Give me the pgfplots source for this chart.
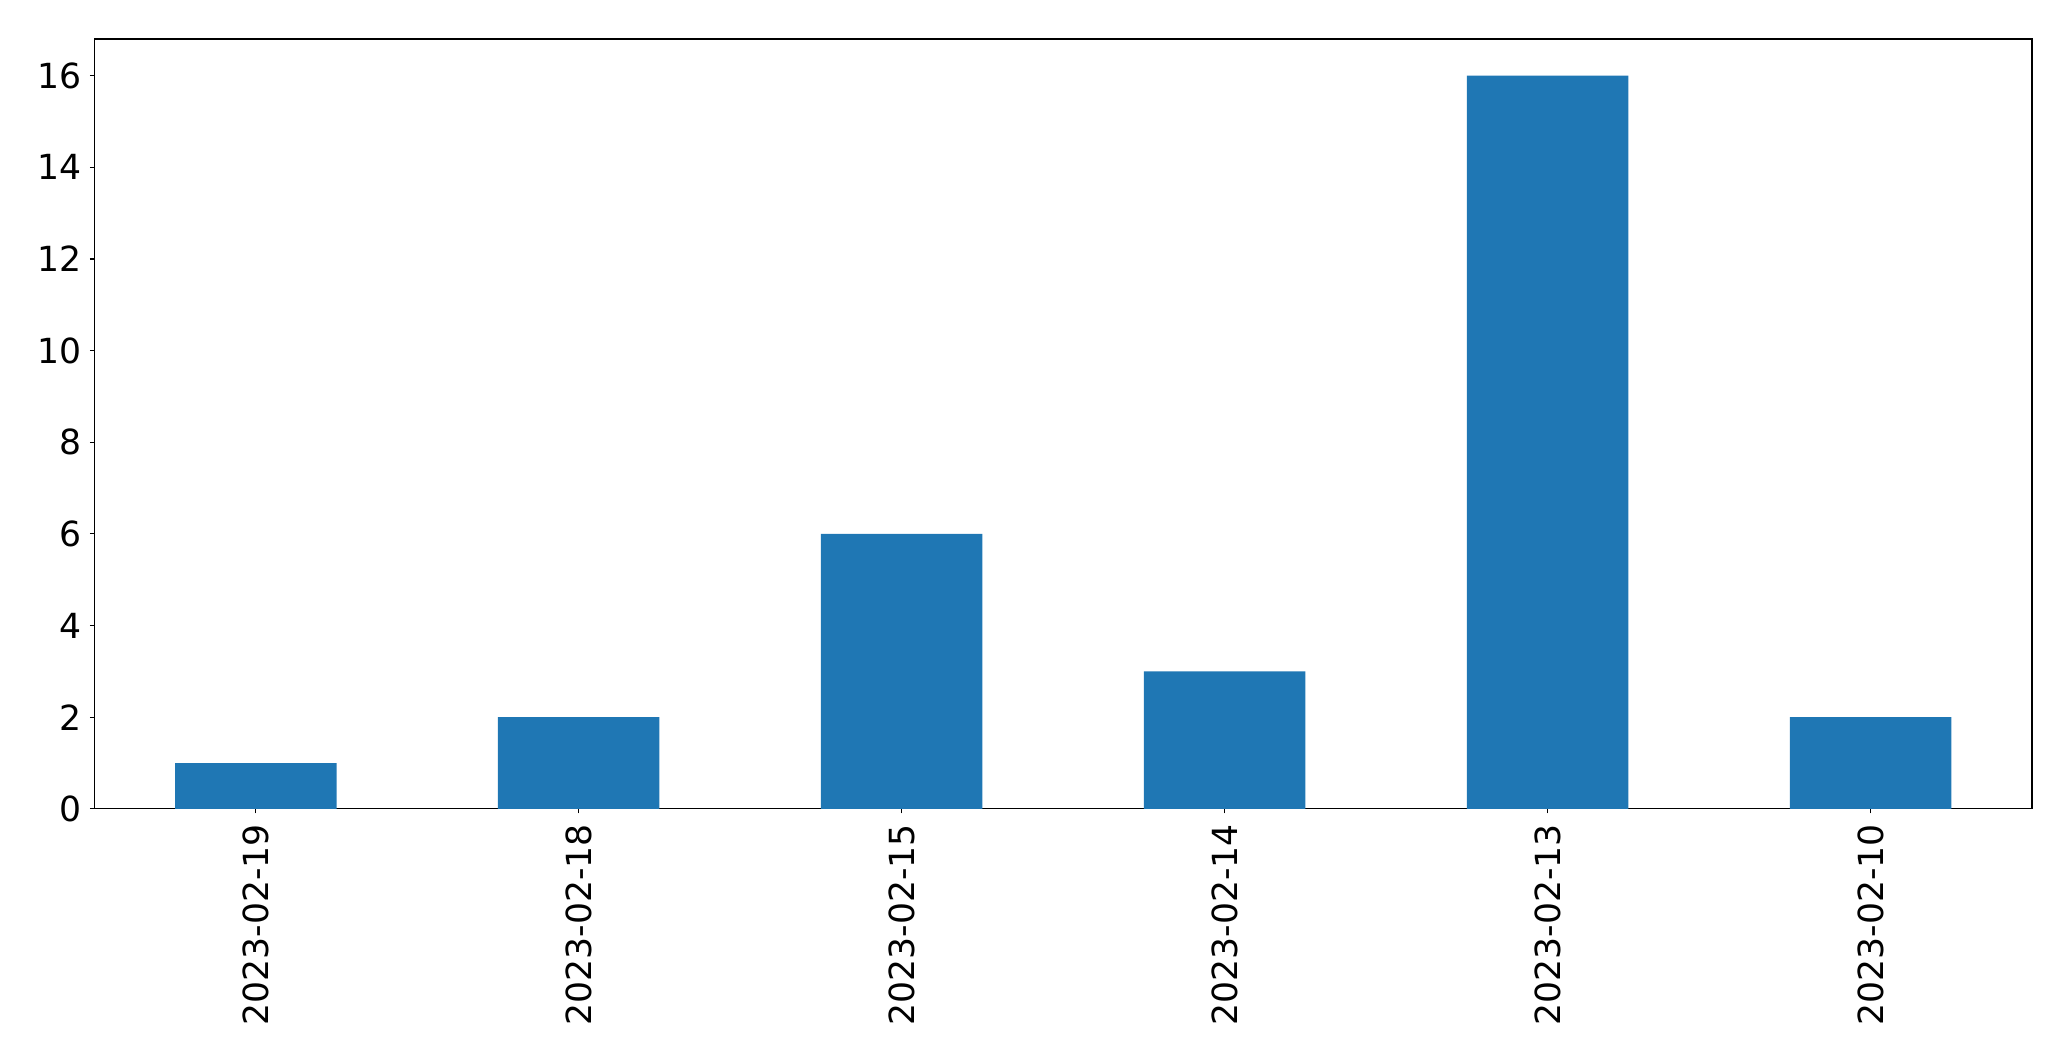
\documentclass[border=0pt]{standalone}
\usepackage{fontspec}
\setmainfont{DejaVu Sans}
\usepackage{pgfplots}
\pgfplotsset{compat=1.18}
\definecolor{c0}{HTML}{1F77B4}
\begin{document}
\begin{tikzpicture}
\begin{axis}[
  scale only axis, width=969pt, height=385pt,
  xmin=-0.5, xmax=5.5, ymin=0, ymax=16.8,
  xtick={0,1,2,3,4,5},
  xticklabels={2023-02-19,2023-02-18,2023-02-15,2023-02-14,2023-02-13,2023-02-10},
  ytick={0,2,4,6,8,10,12,14,16},
  tick align=outside, tick pos=left,
  major tick length=2.2pt,
  axis line style={line width=0.55pt},
  every tick/.style={black, line width=0.55pt},
  tick label style={font=\fontsize{17.3}{20}\selectfont, inner sep=0pt},
  xticklabel style={yshift=-5.3pt, rotate=90, anchor=east},
  yticklabel style={anchor=east, xshift=-3.8pt},
  /pgf/number format/assume math mode=true,
]
\addplot[ybar, bar width=0.5, fill=c0, draw=none] coordinates {(0,1) (1,2) (2,6) (3,3) (4,16) (5,2)};
\end{axis}
\pgfresetboundingbox
\path ([xshift=-47.15pt,yshift=-126pt]current axis.south west) rectangle ([xshift=19.5pt,yshift=19.5pt]current axis.north east);
\end{tikzpicture}
\end{document}
